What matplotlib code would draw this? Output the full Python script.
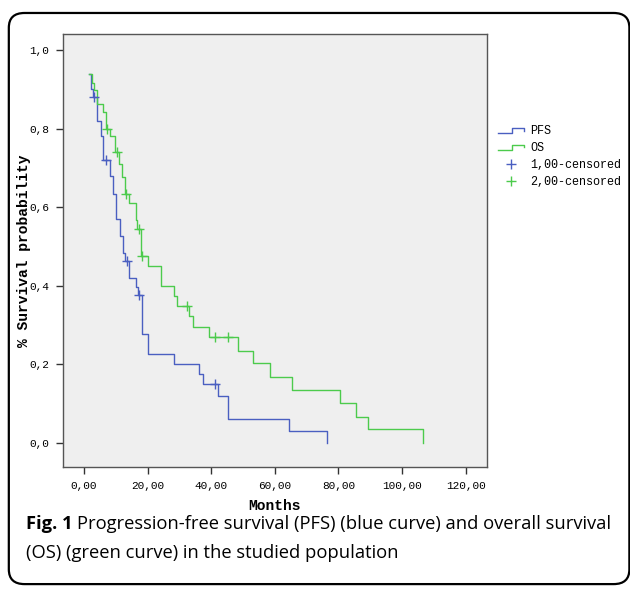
import matplotlib
matplotlib.use("Agg")
from matplotlib import pyplot as plt
from matplotlib.patches import FancyBboxPatch
from matplotlib.legend_handler import HandlerBase
from matplotlib.lines import Line2D

# step curves: time of each step (months) and level after it
pfs_times = [1.7, 2.2, 2.8, 4.0, 5.2, 6.1, 8.2, 9.0, 10.1, 11.3, 12.2, 13.0, 14.2,
             16.4, 16.9, 18.2, 20.2, 28.3, 36.3, 37.3, 42.0, 45.4, 64.4, 76.3]
pfs_surv = [0.94, 0.90, 0.88, 0.82, 0.78, 0.72, 0.68, 0.634, 0.569, 0.527, 0.484, 0.464, 0.419,
            0.398, 0.376, 0.277, 0.226, 0.200, 0.176, 0.150, 0.120, 0.061, 0.031, 0.0]
pfs_cens_t = [3.2, 6.9, 13.4, 17.2, 41.3]
pfs_cens_s = [0.88, 0.72, 0.464, 0.376, 0.150]

os_times = [1.5, 2.4, 3.1, 4.0, 6.1, 6.9, 8.2, 9.8, 11.1, 11.8, 13.0, 14.2, 16.4, 16.8,
            17.8, 20.2, 24.2, 28.3, 29.1, 33.1, 34.2, 39.3, 48.3, 53.2, 58.4, 65.4,
            80.4, 85.5, 89.4, 106.5]
os_surv = [0.94, 0.917, 0.898, 0.862, 0.843, 0.80, 0.78, 0.741, 0.71, 0.678, 0.634, 0.611,
           0.567, 0.545, 0.476, 0.450, 0.40, 0.374, 0.349, 0.323, 0.296, 0.269, 0.235,
           0.203, 0.169, 0.135, 0.101, 0.067, 0.035, 0.0]
os_cens_t = [7.1, 10.3, 13.3, 17.2, 18.1, 32.3, 41.3, 45.4]
os_cens_s = [0.80, 0.741, 0.634, 0.545, 0.476, 0.349, 0.269, 0.269]

x_ticks = [0, 20, 40, 60, 80, 100, 120]
x_labels = ["0,00", "20,00", "40,00", "60,00", "80,00", "100,00", "120,00"]
y_ticks = [0.0, 0.2, 0.4, 0.6, 0.8, 1.0]
y_labels = ["0,0", "0,2", "0,4", "0,6", "0,8", "1,0"]
legend_labels = ["PFS", "OS", "1,00-censored", "2,00-censored"]

BLUE = "#4a5fc1"
GREEN = "#4ccb4c"
MONO = "Liberation Mono"
CAP = "Open Sans"


class StepHandler(HandlerBase):
    def create_artists(self, legend, orig_handle, xdescent, ydescent, width, height, fontsize, trans):
        x0, y0 = -xdescent, -ydescent
        xs = [x0, x0 + width * 0.55, x0 + width * 0.55, x0 + width, x0 + width]
        ys = [y0 + height * 0.15, y0 + height * 0.15, y0 + height * 0.8, y0 + height * 0.8, y0 + height * 0.45]
        return [Line2D(xs, ys, color=orig_handle.get_color(), lw=1.0, transform=trans)]


fig = plt.figure(figsize=(6.3, 5.9), dpi=100)
fig.patches.append(FancyBboxPatch((0.014, 0.01), 0.985, 0.968, boxstyle="round,pad=0,rounding_size=0.025",
                                  transform=fig.transFigure, fill=False, ec="black", lw=1.6))

ax = fig.add_axes([0.1, 0.2085, 0.673, 0.734])
ax.set_facecolor("#efefef")
for s in ax.spines.values():
    s.set_color("#555555")
    s.set_linewidth(1.0)

l_pfs, = ax.step(pfs_times, pfs_surv, where="post", color=BLUE, lw=1.0)
l_os, = ax.step(os_times, os_surv, where="post", color=GREEN, lw=1.0)
m_pfs, = ax.plot(pfs_cens_t, pfs_cens_s, ls="none", marker="+", ms=7, mew=1.0, color=BLUE)
m_os, = ax.plot(os_cens_t, os_cens_s, ls="none", marker="+", ms=7, mew=1.0, color=GREEN)

ax.set_xlim(-6.6, 126.7)
ax.set_ylim(-0.061, 1.041)
ax.set_xticks(x_ticks)
ax.set_xticklabels(x_labels, fontfamily=MONO, fontsize=8)
ax.set_yticks(y_ticks)
ax.set_yticklabels(y_labels, fontfamily=MONO, fontsize=8)
ax.tick_params(direction="out", length=5, width=1.0, color="#333333", pad=5)

ax.set_xlabel("Months", fontfamily=MONO, fontweight="bold", fontsize=10.5, labelpad=6)
ax.set_ylabel("% Survival probability", fontfamily=MONO, fontweight="bold", fontsize=10.5, labelpad=-1)

ax.legend([l_pfs, l_os, m_pfs, m_os], legend_labels,
          handler_map={l_pfs: StepHandler(), l_os: StepHandler()},
          loc="upper left", bbox_to_anchor=(1.015, 0.80), frameon=False,
          prop={"family": MONO, "size": 8.5}, handlelength=2.2, handletextpad=0.5,
          labelspacing=0.42, borderaxespad=0)

# caption: bold "Fig. 1" followed by normal text
cap_size = 13.2
t1 = fig.text(0.041, 0.104, "Fig. 1", fontfamily=CAP, fontweight="bold", fontsize=cap_size, va="baseline")
fig.canvas.draw()
bb = t1.get_window_extent()
fig.text(bb.x1 / fig.bbox.width + 0.007, 0.104,
         "Progression-free survival (PFS) (blue curve) and overall survival",
         fontfamily=CAP, fontsize=cap_size, va="baseline")
fig.text(0.041, 0.054, "(OS) (green curve) in the studied population",
         fontfamily=CAP, fontsize=cap_size, va="baseline")

fig.savefig("out.png", dpi=100)
